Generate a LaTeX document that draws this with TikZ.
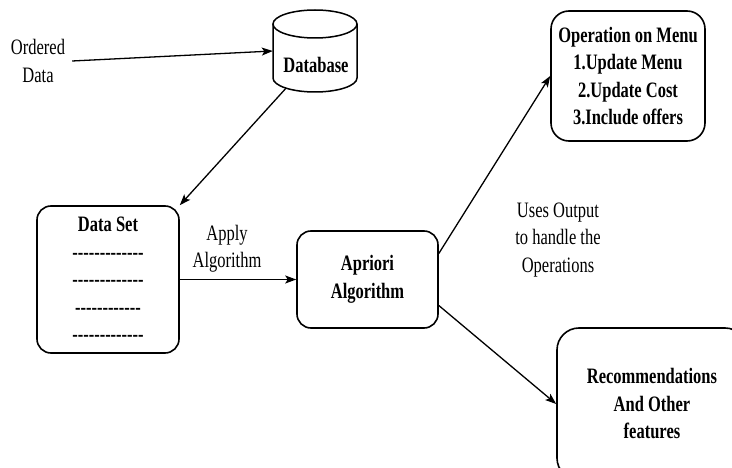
\documentclass[tikz,border=0pt]{standalone}
\usepackage{fontspec}
\setmainfont[FakeStretch=0.75]{Liberation Serif}
\usetikzlibrary{arrows.meta,calc}
\newcommand\hy{\mbox{-}}
\newcommand\hysix{\hy\hy\hy\hy\hy\hy}
\newcommand\rowtw{\hysix\hysix}
\newcommand\rowth{\hysix\hysix\hy}
\begin{document}
\begin{tikzpicture}[x=1pt,y=-1pt,
  txt/.style={font=\fontsize{22}{27.5}\selectfont, align=center, inner sep=0pt},
  box/.style={draw, line width=1.6pt, rounded corners=14pt, inner sep=0pt,
    font=\bfseries\fontsize{22}{27.5}\selectfont, align=center},
  conn/.style={line width=1.3pt, -{Stealth[length=11pt,width=8pt,inset=2.5pt]}}]
\useasboundingbox (0,0) rectangle (732,468);
\clip (0,0) rectangle (732,468);

% Ordered data label
\node[txt, inner xsep=7pt] (ord) at (38,61) {Ordered\\Data};

% Database cylinder
\node[inner sep=0pt, minimum width=84pt, minimum height=82pt] (db) at (315,51) {};
\draw[line width=1.5pt, fill=white] (273,24) -- (273,78)
  arc[start angle=180, end angle=360, x radius=42pt, y radius=14pt] -- (357,24);
\draw[line width=1.5pt] (315,24) ellipse [x radius=42pt, y radius=14pt];
\node[font=\bfseries\fontsize{22}{27.5}\selectfont, inner sep=0pt] (dbt) at (316,65) {Database};

% Data set
\node[box, minimum width=142pt, minimum height=147pt] (ds) at (108,279.5)
  {Data Set\\ \rowth\\ \rowth\\ \rowtw\\ \rowth};

% Apply Algorithm label
\node[txt] (apl) at (227,248.5) {Apply\\Algorithm};

% Apriori
\node[box, minimum width=141pt, minimum height=97pt] (ap) at (367.5,279.5) {Apriori\\Algorithm};

% Operation on Menu
\node[box, rounded corners=18pt, minimum width=154pt, minimum height=130pt] (om) at (628,76)
  {Operation on Menu\\1.Update Menu\\2.Update Cost\\3.Include offers};

% Uses output label
\node[txt] (uo) at (558,240) {Uses Output\\to handle the\\Operations};

% Recommendations
\node[box, rounded corners=22pt, minimum width=190pt, minimum height=152pt] (rec) at (652,404)
  {Recommendations\\And Other\\features};

% Connectors
\draw[conn] (ord.east) -- (db.west);
\draw[conn] ($(db.south)+(-29,-4)$) -- (ds.north east);
\draw[conn] (ds.east) -- (ap.west);
\draw[conn] ([yshift=26pt]ap.east) -- (om.west);
\draw[conn] ([yshift=-26pt]ap.east) -- (rec.west);
\end{tikzpicture}
\end{document}
